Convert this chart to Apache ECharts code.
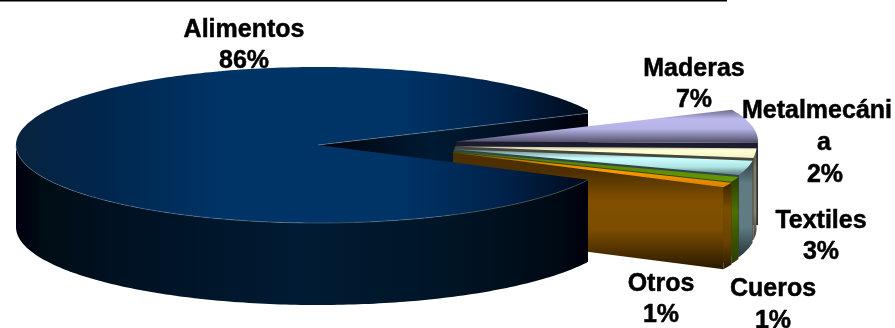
<!DOCTYPE html>
<html><head><meta charset="utf-8">
<style>html,body{margin:0;padding:0;background:#fff}#c{width:895px;height:328px}</style>
<script src="https://cdn.jsdelivr.net/npm/echarts@6/dist/echarts.min.js"></script>
</head><body><div id="c"></div>
<script>
const categories = ['Alimentos','Maderas','Metalmecánica','Textiles','Cueros','Otros'];
const percents = [86,7,2,3,1,1];

// layout
const CX=318, CY=145, RX=302, RY=78, DEPTH=82, START=24, CUT_X=588;
const labelLines = {
  Alimentos:{lines:['Alimentos'],x:[244,244],y:[30,61]},
  Maderas:{lines:['Maderas'],x:[694,694],y:[69,100]},
  'Metalmecánica':{lines:['Metalmecáni','a'],x:[817,824,825],y:[111,143,175]},
  Textiles:{lines:['Textiles'],x:[821,821],y:[221,252]},
  Cueros:{lines:['Cueros'],x:[773,773],y:[289,321]},
  Otros:{lines:['Otros'],x:[661,661],y:[284,315]}
};
const G=echarts.graphic.LinearGradient;
const hg=(a,b,st)=>new G(a,0,b,0,st.map(s=>({offset:s[0],color:s[1]})),true);
const vg=(a,b,st)=>new G(0,a,0,b,st.map(s=>({offset:s[0],color:s[1]})),true);

const total=percents.reduce((a,b)=>a+b,0);
const rad=d=>d*Math.PI/180;
const spans=[];
let cur=START;
percents.forEach((p,i)=>{
  const sweep=p/total*360;
  if(i===0){spans.push([START,START+sweep]);}
  else{spans.push([cur,cur-sweep]);cur-=sweep;}
});
function apex(i){
  if(i===0) return [CX,CY];
  const m=rad((spans[i][0]+spans[i][1])/2);
  return [455+5*Math.sin(m),145-18*Math.sin(m)];
}
const pt=(c,a,dy)=>[c[0]+RX*Math.cos(rad(a)),c[1]-RY*Math.sin(rad(a))+(dy||0)];
function arc(c,a0,a1,dy){
  const n=Math.max(2,Math.ceil(Math.abs(a1-a0)));
  const out=[];
  for(let k=0;k<=n;k++) out.push(pt(c,a0+(a1-a0)*k/n,dy));
  return out;
}
const cut=pts=>pts.map(p=>[Math.min(p[0],CUT_X),p[1]]);
const sliceStyle=[
  null,
  {top:vg(109,142,[[0,'#65637f'],[0.3,'#bbb8ee'],[0.6,'#b5b2e6'],[1,'#55536e']]),
   radial:'#1d1b2e',wall:'#1d1b2e'},
  {top:vg(147,163,[[0,'#c4c3a0'],[0.2,'#ffffd6'],[0.7,'#f2f2c8'],[1,'#7e7d66']]),
   radial:'#47463a',wall:vg(150,240,[[0,'#4e4d40'],[0.2,'#7d7c64'],[0.7,'#85846a'],[1,'#3a392c']])},
  {top:vg(149,173,[[0,'#5e7b7b'],[0.4,'#ccffff'],[0.75,'#aee3e3'],[1,'#6c8f8f']]),
   radial:'#2d474c',wall:vg(160,255,[[0,'#2d3f44'],[0.25,'#607c82'],[0.7,'#607c82'],[1,'#2c3a3e']])},
  {top:vg(151,182,[[0,'#557a00'],[1,'#669900']]),
   radial:'#334d00',wall:vg(178,262,[[0,'#2c3d00'],[0.4,'#4d7000'],[1,'#2c3d00']])},
  {top:vg(153,187,[[0,'#a86400'],[0.5,'#ff9900'],[1,'#d98200']]),
   radial:vg(172,268,[[0,'#4e3000'],[0.3,'#805000'],[0.6,'#7c4d00'],[1,'#2c1b00']]),
   wall:vg(178,268,[[0,'#2e1c00'],[0.35,'#7c4d00'],[0.7,'#6b4300'],[1,'#2c1b00']])}
];

function renderSlice(params){
  const i=params.dataIndex, ch=[];
  const poly=(pts,fill,z2)=>ch.push({type:'polygon',z2,shape:{points:pts},style:{fill}});
  const c=apex(i), s=spans[i];
  if(i===0){
    const up=cut([pt(c,s[0])])[0];
    poly([c,up,[up[0],up[1]+DEPTH],[c[0],c[1]+DEPTH]],
      hg(318,588,[[0,'#00040c'],[0.42,'#001a33'],[0.8,'#000d1c'],[1,'#00000a']]),1);
    const front=cut(arc(c,180,s[1]));
    poly(front.concat(cut(arc(c,s[1],180,DEPTH))),
      hg(16,588,[[0,'#00000f'],[0.05,'#000d14'],[0.15,'#001020'],[0.5,'#001b33'],[0.75,'#001526'],[0.95,'#000a14'],[1,'#00000c']]),20);
    poly([c].concat(cut(arc(c,s[0],s[1]))),
      hg(16,588,[[0,'#08233f'],[0.15,'#00264d'],[0.35,'#003366'],[0.68,'#003366'],[0.85,'#00224a'],[1,'#000a1a']]),21);
    ch.push({type:'polyline',z2:22,shape:{points:front},style:{stroke:'#6d8197',lineWidth:0.5,fill:null}});
    ch.push({type:'polyline',z2:22,shape:{points:[c,up]},style:{stroke:'#7e92a8',lineWidth:0.5,fill:null}});
  }else{
    const st=sliceStyle[i], end=pt(c,s[1]);
    poly([c,end,[end[0],end[1]+DEPTH],[c[0],c[1]+DEPTH]],st.radial,2+i*2);
    const a0=Math.min(0,s[0]);
    if(s[1]<0){
      poly(arc(c,a0,s[1]).concat(arc(c,s[1],a0,DEPTH)),st.wall,3+i*2);
    }
    poly([c].concat(arc(c,s[0],s[1])),st.top,30+i);
  }
  const lab=labelLines[categories[i]];
  const lines=lab.lines.concat([percents[i]+'%']);
  lines.forEach((t,k)=>ch.push({type:'text',z2:50,
    style:{text:t,x:lab.x[k],y:lab.y[k],align:'center',verticalAlign:'middle',
      font:'bold 25px "Liberation Sans", Arial, sans-serif',fill:'#000',stroke:'#000',lineWidth:0.5}}));
  return {type:'group',children:ch};
}

const chart=echarts.init(document.getElementById('c'),null,{renderer:'canvas'});
chart.setOption({
  animation:false,
  backgroundColor:'#fff',
  graphic:[{type:'line',shape:{x1:0,y1:0.5,x2:727,y2:0.5},style:{stroke:'#000',lineWidth:2}}],
  series:[{type:'custom',coordinateSystem:'none',silent:true,renderItem:renderSlice,
    data:categories.map((n,i)=>({name:n,value:percents[i]}))}]
});
</script></body></html>
